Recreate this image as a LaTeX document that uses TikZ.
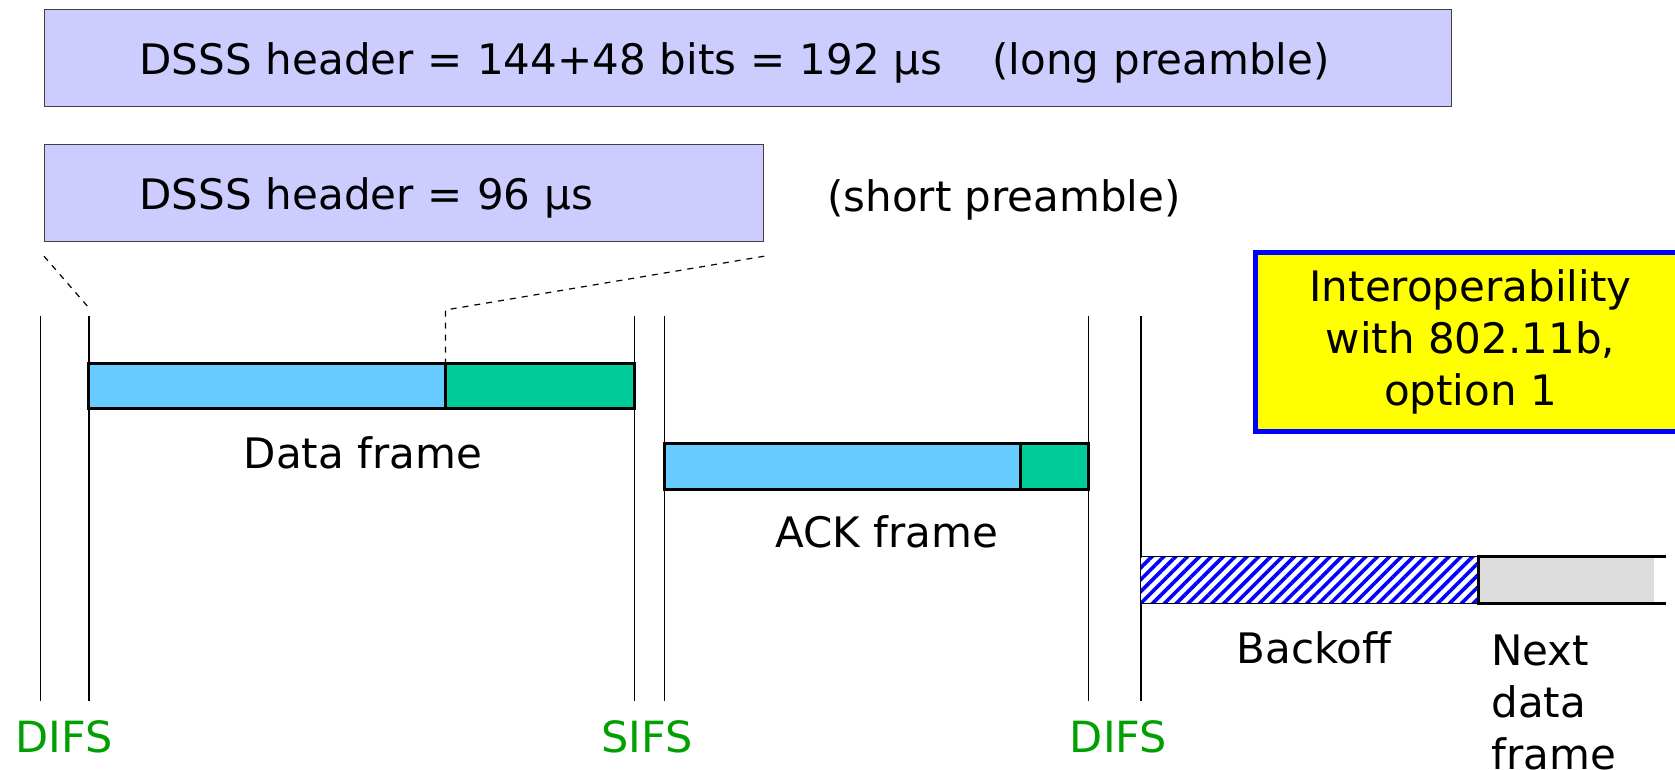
\documentclass[tikz,border=0pt]{standalone}
\usepackage{fontspec}
\setmainfont{DejaVu Sans}
\usetikzlibrary{patterns.meta}

\definecolor{hdrfill}{RGB}{204,204,255}
\definecolor{bodyblue}{RGB}{102,204,255}
\definecolor{fcsgreen}{RGB}{0,204,153}
\definecolor{difsgreen}{RGB}{0,160,0}
\definecolor{nextgray}{RGB}{221,221,221}

\begin{document}
\begin{tikzpicture}[
    x=0.5pt, y=-0.5pt,
    font=\fontsize{21}{26}\selectfont,
    hdr/.style={draw=black!75, line width=0.6pt, fill=hdrfill, anchor=north west,
      inner xsep=47.5pt, align=left, minimum height=48.5pt,
      text height=20pt, text depth=3.6pt},
    tick/.style={line width=0.8pt},
    bar/.style={draw, line width=1.5pt},
    gap/.style={text=difsgreen, font=\fontsize{21.5}{26}\selectfont},
    note/.style={draw=blue, line width=2.5pt, fill={rgb,255:red,255;green,255;blue,0}, anchor=north west,
      minimum width=215pt, minimum height=89.5pt, align=center}
]
\useasboundingbox (0,0) rectangle (1675,770);

% preamble headers
\node[hdr, text width=608.5pt] (hlong) at (44,9) {DSSS header = 144+48 bits = 192 μs\hspace{25pt}(long preamble)};
\node[hdr, text width=264.5pt] (hshort) at (44,144) {DSSS header = 96 μs};
\node (shortlbl) at (1004,200) {(short preamble)};

% time marks
\foreach \x in {40.6,88.7,634.5,664.4,1088.5,1140.8}
  \draw[tick] (\x,316) -- (\x,701);

% data frame
\coordinate (dsplit) at (445.4,363);
\fill[bodyblue] (88.7,363) rectangle (dsplit |- 0,408);
\fill[fcsgreen] (dsplit) rectangle (634.5,408);
\draw[bar] (88.7,363) rectangle (634.5,408);
\draw[bar] (dsplit) -- (dsplit |- 0,408);
\node (datalbl) at (363,453) {Data frame};

% ack frame
\fill[bodyblue] (664.4,443) rectangle (1020,489);
\fill[fcsgreen] (1020,443) rectangle (1088.5,489);
\draw[bar] (664.4,443) rectangle (1088.5,489);
\draw[bar] (1020,443) -- (1020,489);
\node (acklbl) at (887,532) {ACK frame};

% backoff and next frame
\fill[white] (1140.8,556.5) rectangle (1478,603.5);
\fill[pattern={Lines[angle=45,distance=4.2pt,line width=1.8pt]}, pattern color=blue]
  (1140.8,556.5) rectangle (1478,603.5);
\draw[line width=0.6pt] (1478,556.5) -- (1140.8,556.5) -- (1140.8,603.5) -- (1478,603.5);
\fill[nextgray] (1478,556.5) rectangle (1653.5,603.5);
\draw[bar] (1666,556.5) -- (1478,556.5) -- (1478,603.5) -- (1666,603.5);
\node (backlbl) at (1314,648) {Backoff};
\node[anchor=west, align=left, inner sep=0pt] (nextlbl) at (1491,702) {Next\\data\\frame};

% dashed zoom lines
\coordinate (zl) at (89,308);
\coordinate (zr) at (445.4,310);
\draw[dashed, line width=0.6pt] ([yshift=-7pt]hshort.south west) -- (zl);
\draw[dashed, line width=0.6pt] ([yshift=-7pt]hshort.south east) -- (zr) -- (dsplit);

% interframe spaces
\node[gap] (difs1) at (64,737) {DIFS};
\node[gap] (sifs) at (647,737) {SIFS};
\node[gap] (difs2) at (1118.5,737) {DIFS};

\node[note] (interop) at (1253,250) {Interoperability\\with 802.11b,\\option 1};

\end{tikzpicture}
\end{document}
